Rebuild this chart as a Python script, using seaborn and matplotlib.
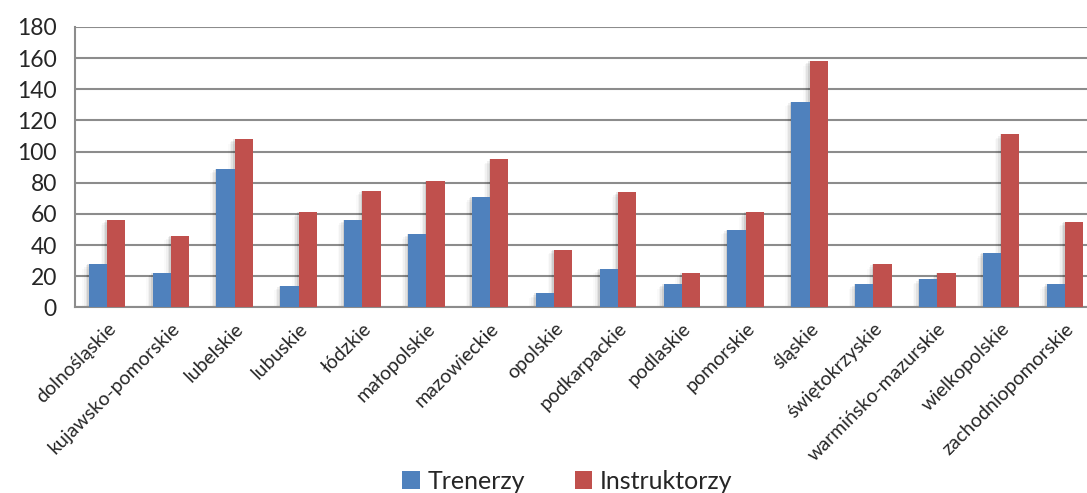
import pandas as pd
import numpy as np
import seaborn as sns
import matplotlib.pyplot as plt
from matplotlib.ticker import FixedLocator

# województwa
regions = ["dolnośląskie", "kujawsko-pomorskie", "lubelskie", "lubuskie", "łódzkie",
           "małopolskie", "mazowieckie", "opolskie", "podkarpackie", "podlaskie",
           "pomorskie", "śląskie", "świętokrzyskie", "warmińsko-mazurskie",
           "wielkopolskie", "zachodniopomorskie"]
trenerzy = [28, 22, 89, 14, 56, 47, 71, 9, 25, 15, 50, 132, 15, 18, 35, 15]
instruktorzy = [56, 46, 108, 61, 75, 81, 95, 37, 74, 22, 61, 158, 28, 22, 111, 55]
series = ["Trenerzy", "Instruktorzy"]
colors = ["#4F81BD", "#C0504D"]

df = pd.DataFrame({"region": regions * 2,
                   "value": trenerzy + instruktorzy,
                   "series": [series[0]] * len(regions) + [series[1]] * len(regions)})

sns.set_style("white")
plt.rcParams["font.family"] = ["Lato", "DejaVu Sans"]

fig = plt.figure(figsize=(10.87, 4.93), dpi=100)
ax = fig.add_axes([0.069, 0.3763, 0.9402, 0.569])

sns.barplot(data=df, x="region", y="value", hue="series", palette=colors,
            width=0.57, gap=0, saturation=1, errorbar=None, ax=ax, zorder=3)

# soft shadow to the left of each bar (excel style)
for p in list(ax.patches):
    x, w, h = p.get_x(), p.get_width(), p.get_height()
    for k, a in enumerate([0.09, 0.06, 0.035, 0.02]):
        ax.bar(x - 0.025 * (k + 1), h - 1.0 * k, width=w, align="edge", color="black",
               alpha=a, linewidth=0, zorder=2)
    p.set_edgecolor("none")

ax.set_ylim(0, 180)
ax.set_xlim(-0.5, 15.5)
ax.set_yticks(np.arange(0, 181, 20))
ax.yaxis.grid(True, color="#8c8c8c", linewidth=1.5)
ax.set_axisbelow(True)

for s in ["top", "right"]:
    ax.spines[s].set_visible(False)
for s in ["left", "bottom"]:
    ax.spines[s].set_color("#8c8c8c")
    ax.spines[s].set_linewidth(1.5)

ax.tick_params(axis="y", length=8, width=1.5, color="#8c8c8c", labelsize=16.5, pad=5)
ax.tick_params(axis="x", which="major", length=0, labelsize=14, pad=9)
ax.xaxis.set_minor_locator(FixedLocator(np.arange(-0.5, 16, 1)))
ax.tick_params(axis="x", which="minor", length=6, width=1.5, color="#8c8c8c")
plt.setp(ax.get_xticklabels(), rotation=45, ha="right", rotation_mode="anchor")

ax.set_xlabel("")
ax.set_ylabel("")

handles, labels = ax.get_legend_handles_labels()
ax.legend_.remove()
fig.legend(handles, labels, loc="lower center", bbox_to_anchor=(0.522, -0.045), ncol=2,
           frameon=False, fontsize=18, handlelength=0.7, handleheight=0.7,
           handletextpad=0.3, columnspacing=2.0)

fig.savefig("out.png", dpi=100)
